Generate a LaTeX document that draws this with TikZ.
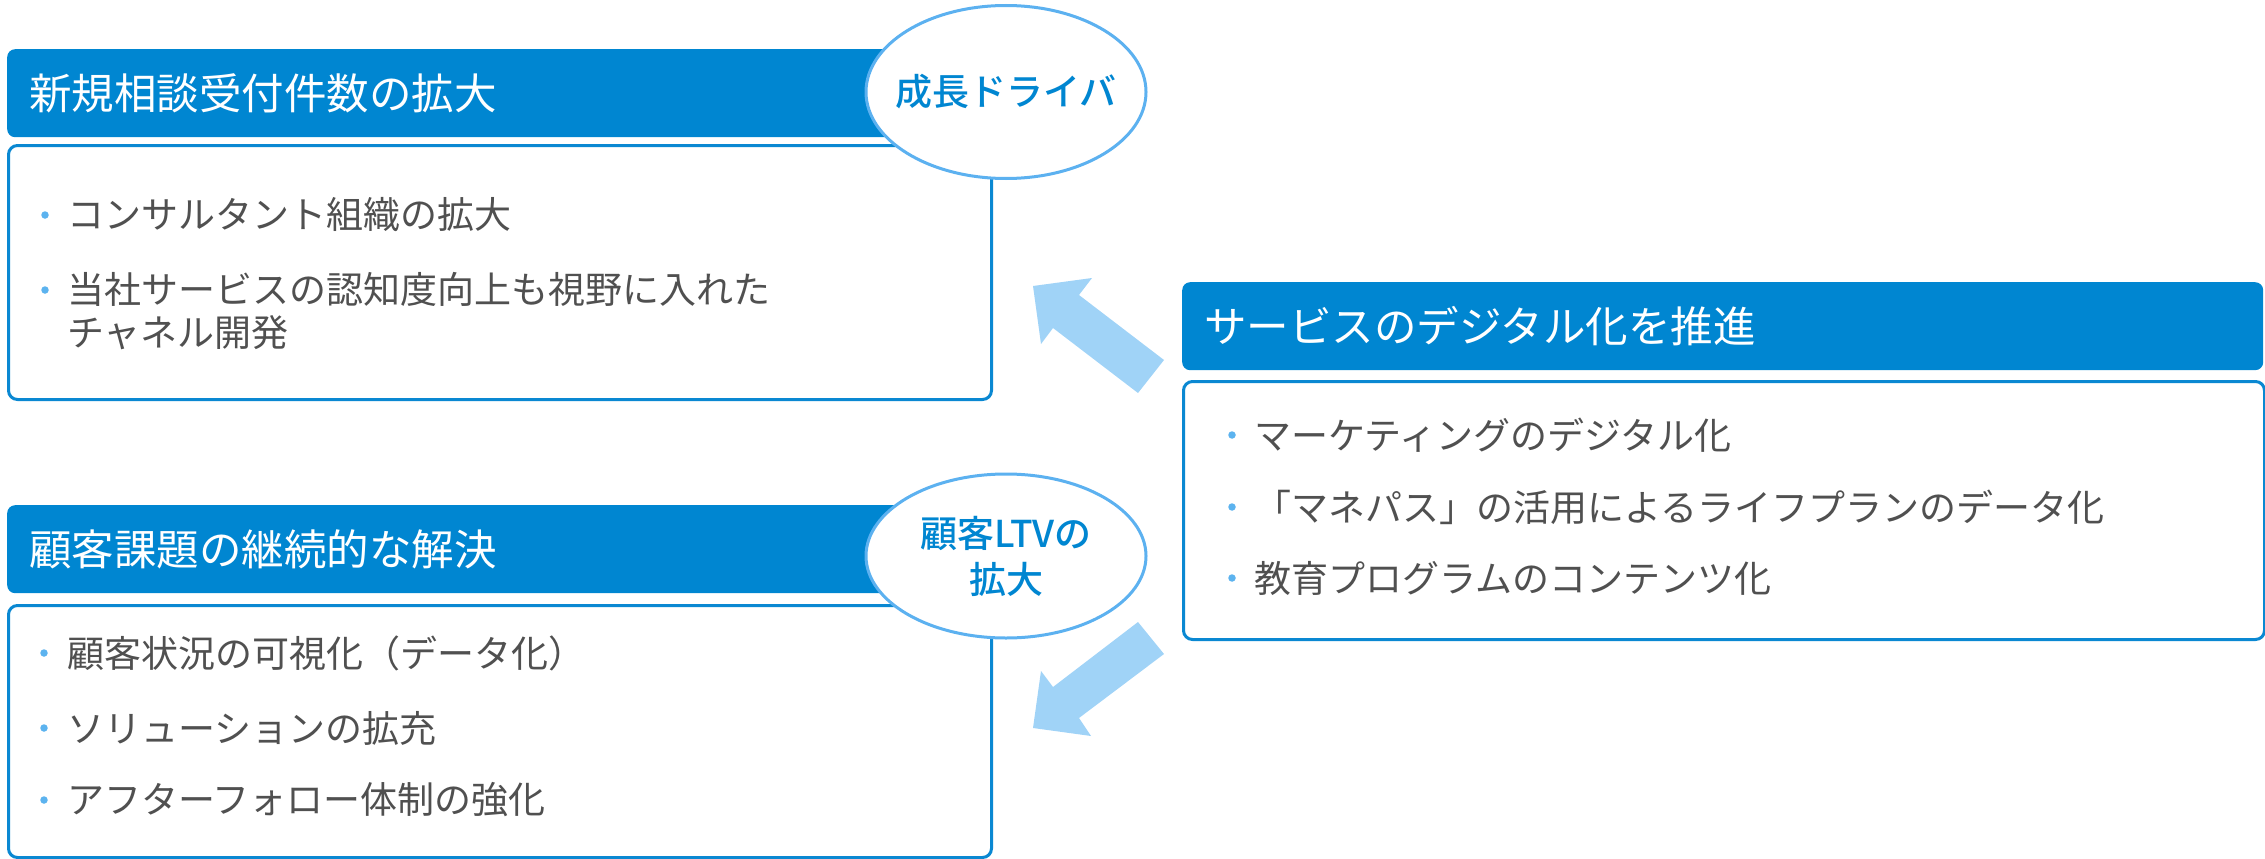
\documentclass[tikz,border=0pt]{standalone}
\usepackage{fontspec}
\setmainfont{Noto Sans CJK JP}
\newfontfamily\jpmed{Noto Sans CJK JP Medium}
\usetikzlibrary{shapes.geometric}
\definecolor{hdr}{RGB}{0,134,209}
\definecolor{bdr}{RGB}{10,136,210}
\definecolor{ell}{RGB}{92,177,240}
\definecolor{arr}{RGB}{160,211,247}
\definecolor{dot}{RGB}{92,179,239}
\definecolor{txt}{RGB}{80,80,80}
\begin{document}
\begin{tikzpicture}[x=1pt,y=-1pt,
 hdrbox/.style={fill=hdr, rounded corners=8pt, anchor=north west, inner xsep=22pt, inner ysep=0pt, align=left, text=white, minimum height=88pt, font=\fontsize{42.5}{50}\selectfont},
 bodybox/.style={draw=bdr, line width=3pt, rounded corners=9pt, fill=white, anchor=north west, inner sep=0pt},
 ellnode/.style={ellipse, draw=ell, line width=3pt, fill=white, inner sep=0pt},
 elltext/.style={text=hdr, font=\jpmed\fontsize{37}{46}\selectfont, align=center, inner sep=0pt},
 item/.style={anchor=west, text=txt, font=\fontsize{37}{43}\selectfont, align=left, inner sep=0pt},
 bul/.style={circle, fill=dot, inner sep=0pt, minimum size=7.5pt},
 blockarrow/.style={fill=arr}]
\useasboundingbox (0,0) rectangle (2265,859);

% top-left
\node[hdrbox, text width=939pt] (h1) at (7,49) {新規相談受付件数の拡大};
\node[bodybox, minimum width=983pt, minimum height=254pt] (b1) at (7,144) {};
\node[bul] (d11) at (45,215) {};
\node[item] (t11) at (67,215) {コンサルタント組織の拡大};
\node[bul] (d12) at (45,290) {};
\node[item] (t12) at (67,311.5) {当社サービスの認知度向上も視野に入れた\\チャネル開発};

% bottom-left
\node[hdrbox, text width=939pt] (h2) at (7,505) {顧客課題の継続的な解決};
\node[bodybox, minimum width=983pt, minimum height=252pt] (b2) at (7,604) {};
\node[bul] (d21) at (44,653) {};
\node[item] (t21) at (67,653) {顧客状況の可視化（データ化）};
\node[bul] (d22) at (44,728) {};
\node[item] (t22) at (67,728) {ソリューションの拡充};
\node[bul] (d23) at (44,800) {};
\node[item] (t23) at (67,800) {アフターフォロー体制の強化};

% right
\node[hdrbox, text width=1037pt] (h3) at (1182,282) {サービスのデジタル化を推進};
\node[bodybox, minimum width=1081pt, minimum height=258pt] (b3) at (1182,380) {};
\node[bul] (d31) at (1232,435) {};
\node[item] (t31) at (1254,435) {マーケティングのデジタル化};
\node[bul] (d32) at (1232,507) {};
\node[item] (t32) at (1254,507) {「マネパス」の活用によるライフプランのデータ化};
\node[bul] (d33) at (1232,578) {};
\node[item] (t33) at (1254,578) {教育プログラムのコンテンツ化};

% ellipses
\node[ellnode, minimum width=280pt, minimum height=173pt] (e1) at (1006,92) {};
\node[elltext] (e1t) at (e1.center) {成長ドライバ};
\node[ellnode, minimum width=280pt, minimum height=164pt] (e2) at (1006,556) {};
\node[elltext] (e2t) at (e2.center) {顧客LTVの\\拡大};

% block arrows
\fill[blockarrow] (1033,286) -- (1092,278) -- (1079,295) -- (1164,360) -- (1138,393) -- (1053,328) -- (1041,344) -- cycle;
\fill[blockarrow] (1033,728) -- (1041,671) -- (1053,687) -- (1138,622) -- (1164,654) -- (1079,718) -- (1091,736) -- cycle;
\end{tikzpicture}
\end{document}
